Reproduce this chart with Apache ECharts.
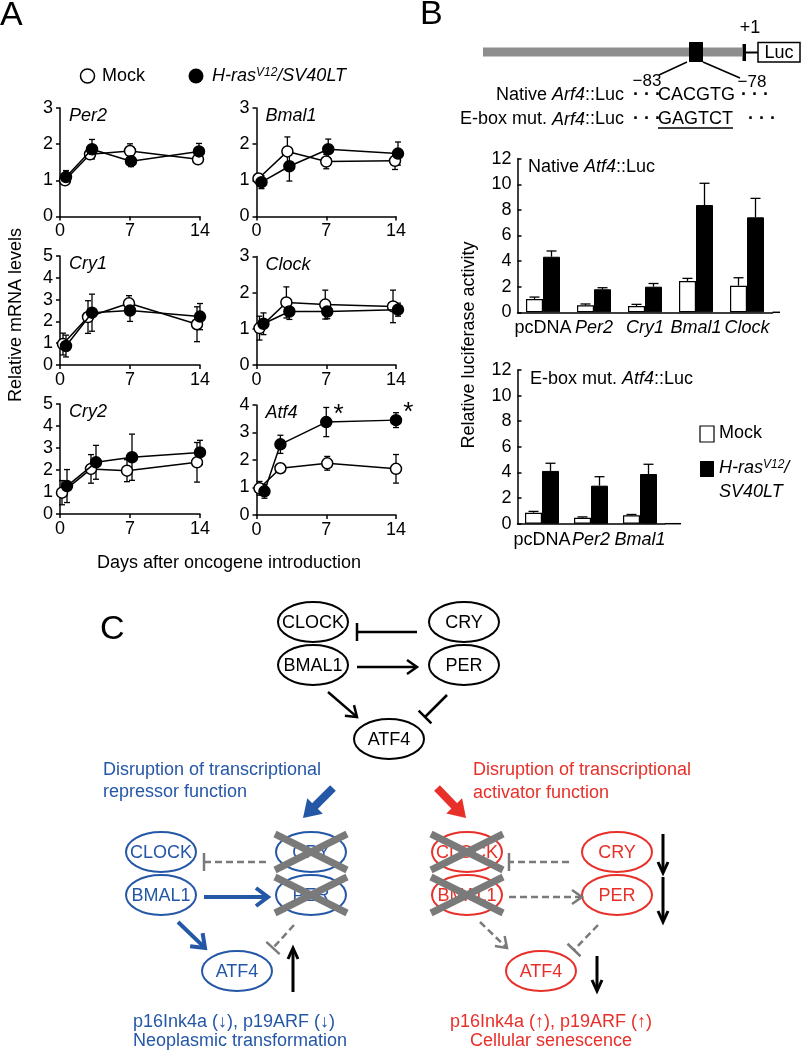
<!DOCTYPE html>
<html><head><meta charset="utf-8">
<script src="https://cdn.jsdelivr.net/npm/echarts@6/dist/echarts.min.js"></script>
<style>html,body{margin:0;padding:0;background:#fff}#c{width:805px;height:1052px}</style>
</head><body><div id="c"></div>
<script>
const FONT = '"Liberation Sans", Arial, Helvetica, sans-serif';

// ---------------- Panel A data (days after oncogene introduction) ----------------
const per2MockX = [0.5, 3.0, 7.0, 13.8];
const per2Mock = [1.0, 1.72, 1.81, 1.58];
const per2MockErr = [0.1, 0.1, 0.2, 0.1];
const per2RasX = [0.6, 3.2, 7.1, 13.9];
const per2Ras = [1.09, 1.86, 1.53, 1.8];
const per2RasErr = [0.18, 0.27, 0.15, 0.22];

const bmal1MockX = [0.2, 3.1, 7.0, 13.9];
const bmal1Mock = [1.05, 1.8, 1.52, 1.54];
const bmal1MockErr = [0.1, 0.4, 0.2, 0.24];
const bmal1RasX = [0.5, 3.3, 7.2, 14.2];
const bmal1Ras = [0.95, 1.39, 1.86, 1.74];
const bmal1RasErr = [0.18, 0.41, 0.28, 0.32];

const cry1MockX = [0.3, 2.8, 6.9, 13.7];
const cry1Mock = [0.96, 2.2, 2.83, 1.87];
const cry1MockErr = [0.5, 0.75, 0.35, 0.8];
const cry1RasX = [0.6, 3.2, 7.0, 14.0];
const cry1Ras = [0.87, 2.4, 2.5, 2.22];
const cry1RasErr = [0.5, 0.85, 0.5, 0.6];

const clockMockX = [0.3, 3.0, 6.9, 13.7];
const clockMock = [1.02, 1.73, 1.67, 1.62];
const clockMockErr = [0.33, 0.43, 0.4, 0.45];
const clockRasX = [0.7, 3.3, 7.1, 14.2];
const clockRas = [1.14, 1.48, 1.48, 1.53];
const clockRasErr = [0.3, 0.22, 0.2, 0.18];

const cry2MockX = [0.2, 3.1, 6.7, 13.7];
const cry2Mock = [0.97, 2.05, 1.97, 2.35];
const cry2MockErr = [0.55, 0.65, 0.5, 0.9];
const cry2RasX = [0.7, 3.6, 7.2, 14.0];
const cry2Ras = [1.27, 2.35, 2.58, 2.8];
const cry2RasErr = [0.75, 0.77, 1.05, 0.55];

const atf4MockX = [0.3, 2.4, 7.1, 14.0];
const atf4Mock = [0.97, 1.7, 1.88, 1.68];
const atf4MockErr = [0.25, 0.07, 0.25, 0.52];
const atf4RasX = [0.8, 2.4, 7.0, 14.0];
const atf4Ras = [0.86, 2.57, 3.38, 3.45];
const atf4RasErr = [0.25, 0.33, 0.53, 0.27];
const atf4Signif = [false, false, true, true];

const genesA = ['Per2', 'Bmal1', 'Cry1', 'Clock', 'Cry2', 'Atf4'];
const yMaxA = [3, 3, 5, 3, 5, 4];
const xTicksA = [0, 7, 14];

// ---------------- Panel B data (relative luciferase activity) ----------------
const nativeCats = ['pcDNA', 'Per2', 'Cry1', 'Bmal1', 'Clock'];
const nativeMock = [1.04, 0.55, 0.49, 2.45, 2.08];
const nativeMockErr = [0.15, 0.1, 0.13, 0.2, 0.62];
const nativeRas = [4.34, 1.8, 2.0, 8.38, 7.42];
const nativeRasErr = [0.45, 0.12, 0.25, 1.7, 1.48];

const eboxCats = ['pcDNA', 'Per2', 'Bmal1'];
const eboxMock = [0.86, 0.47, 0.66];
const eboxMockErr = [0.1, 0.06, 0.06];
const eboxRas = [4.12, 2.97, 3.88];
const eboxRasErr = [0.6, 0.7, 0.76];
const yTicksB = [0, 2, 4, 6, 8, 10, 12];

// ---------------- layout ----------------
const layoutA = [
  {left: 60, top: 108, w: 140, h: 108.5},
  {left: 256.5, top: 108, w: 139.5, h: 108.5},
  {left: 60, top: 256, w: 140, h: 109},
  {left: 256.5, top: 256.5, w: 139.5, h: 108.5},
  {left: 60, top: 404, w: 140, h: 110},
  {left: 256.5, top: 405, w: 139.5, h: 110}
];
const layoutB = [
  {left: 517.5, top: 158.7, w: 255, h: 153.6, axisEnd: 780},
  {left: 517.5, top: 370, w: 147, h: 153.7, axisEnd: 681}
];

const panelsA = [
  {mx: per2MockX, m: per2Mock, me: per2MockErr, rx: per2RasX, r: per2Ras, re: per2RasErr},
  {mx: bmal1MockX, m: bmal1Mock, me: bmal1MockErr, rx: bmal1RasX, r: bmal1Ras, re: bmal1RasErr},
  {mx: cry1MockX, m: cry1Mock, me: cry1MockErr, rx: cry1RasX, r: cry1Ras, re: cry1RasErr},
  {mx: clockMockX, m: clockMock, me: clockMockErr, rx: clockRasX, r: clockRas, re: clockRasErr},
  {mx: cry2MockX, m: cry2Mock, me: cry2MockErr, rx: cry2RasX, r: cry2Ras, re: cry2RasErr},
  {mx: atf4MockX, m: atf4Mock, me: atf4MockErr, rx: atf4RasX, r: atf4Ras, re: atf4RasErr, sig: atf4Signif}
];

const grids = [], xAxes = [], yAxes = [], series = [];
const axLine = () => ({color: '#000', width: 1.5});
const tickLab = (m) => ({color: '#000', fontSize: 18, fontFamily: FONT, margin: m});

function errSeriesA(gi, xs, ys, es) {
  return {
    type: 'custom', xAxisIndex: gi, yAxisIndex: gi, clip: false, silent: true, z: 2, animation: false,
    data: xs.map((x, k) => [x, ys[k], es[k]]),
    encode: {x: 0, y: 1},
    renderItem: (params, api) => {
      const x = api.value(0), y = api.value(1), e = api.value(2);
      const a = api.coord([x, y + e]), b = api.coord([x, y - e]);
      const st = () => ({stroke: '#000', lineWidth: 1.3});
      return {type: 'group', children: [
        {type: 'line', shape: {x1: a[0], y1: a[1], x2: b[0], y2: b[1]}, style: st()},
        {type: 'line', shape: {x1: a[0] - 3, y1: a[1], x2: a[0] + 3, y2: a[1]}, style: st()},
        {type: 'line', shape: {x1: b[0] - 3, y1: b[1], x2: b[0] + 3, y2: b[1]}, style: st()}
      ]};
    }
  };
}
function lineSeriesA(gi, xs, ys, fill, z, sig) {
  return {
    type: 'line', xAxisIndex: gi, yAxisIndex: gi, clip: false, silent: true, z: z, animation: false,
    symbol: 'circle', symbolSize: 11, showSymbol: true,
    lineStyle: {color: '#000', width: 1.5},
    itemStyle: {color: fill, borderColor: '#000', borderWidth: 1.5},
    data: xs.map((x, k) => {
      const d = {value: [x, ys[k]]};
      if (sig && sig[k]) d.label = {show: true, formatter: '*', position: 'right', distance: 1, offset: [0, -7], fontSize: 26, fontFamily: FONT, color: '#000'};
      return d;
    })
  };
}

panelsA.forEach((p, i) => {
  const L = layoutA[i];
  grids.push({left: L.left, top: L.top, width: L.w, height: L.h, containLabel: false, outerBoundsMode: 'none'});
  xAxes.push({type: 'value', gridIndex: i, min: xTicksA[0], max: xTicksA[xTicksA.length - 1], interval: 7,
    axisLine: {show: true, onZero: false, lineStyle: axLine()}, axisTick: {show: true, length: 4, lineStyle: axLine()},
    axisLabel: tickLab(6), splitLine: {show: false}});
  yAxes.push({type: 'value', gridIndex: i, min: 0, max: yMaxA[i], interval: 1,
    axisLine: {show: true, onZero: false, lineStyle: axLine()}, axisTick: {show: true, length: 4, lineStyle: axLine()},
    axisLabel: tickLab(7), splitLine: {show: false}});
  series.push(errSeriesA(i, p.mx, p.m, p.me));
  series.push(errSeriesA(i, p.rx, p.r, p.re));
  series.push(lineSeriesA(i, p.mx, p.m, '#fff', 3));
  series.push(lineSeriesA(i, p.rx, p.r, '#000', 4, p.sig));
});

// ---------------- Panel B bar charts ----------------
const BAR_W = 17;
function errSeriesB(gi, vals, errs, offset) {
  return {
    type: 'custom', xAxisIndex: gi, yAxisIndex: gi, clip: false, silent: true, z: 5, animation: false,
    data: vals.map((v, k) => [k, v, errs[k]]),
    encode: {x: 0, y: 1},
    renderItem: (params, api) => {
      const c = api.value(0), y = api.value(1), e = api.value(2);
      const a = api.coord([c, y]), b = api.coord([c, y + e]);
      const x = a[0] + offset;
      const st = () => ({stroke: '#000', lineWidth: 1.3});
      return {type: 'group', children: [
        {type: 'line', shape: {x1: x, y1: a[1], x2: x, y2: b[1]}, style: st()},
        {type: 'line', shape: {x1: x - 5, y1: b[1], x2: x + 5, y2: b[1]}, style: st()}
      ]};
    }
  };
}
function barSet(gi, L, cats, mock, mockErr, ras, rasErr) {
  grids.push({left: L.left, top: L.top, width: L.w, height: L.h, containLabel: false, outerBoundsMode: 'none'});
  xAxes.push({type: 'category', gridIndex: gi, data: cats,
    axisLine: {show: true, lineStyle: axLine()}, axisTick: {show: false},
    axisLabel: {color: '#000', fontSize: 18, fontFamily: FONT, margin: 7, interval: 0,
      formatter: v => v === 'pcDNA' ? v : '{i|' + v + '}',
      rich: {i: {fontStyle: 'italic', fontSize: 18, fontFamily: FONT, color: '#000'}}},
    splitLine: {show: false}});
  yAxes.push({type: 'value', gridIndex: gi, min: yTicksB[0], max: yTicksB[yTicksB.length - 1], interval: 2,
    axisLine: {show: true, lineStyle: axLine()}, axisTick: {show: true, inside: true, length: 4, lineStyle: axLine()},
    axisLabel: tickLab(6), splitLine: {show: false}});
  series.push({type: 'bar', xAxisIndex: gi, yAxisIndex: gi, data: mock, barWidth: BAR_W, barGap: '0%', silent: true, animation: false,
    itemStyle: {color: '#fff', borderColor: '#000', borderWidth: 1.2}, z: 3});
  series.push({type: 'bar', xAxisIndex: gi, yAxisIndex: gi, data: ras, barWidth: BAR_W, barGap: '0%', silent: true, animation: false,
    itemStyle: {color: '#000', borderColor: '#000', borderWidth: 1}, z: 3});
  series.push(errSeriesB(gi, mock, mockErr, -BAR_W / 2));
  series.push(errSeriesB(gi, ras, rasErr, BAR_W / 2));
}
barSet(6, layoutB[0], nativeCats, nativeMock, nativeMockErr, nativeRas, nativeRasErr);
barSet(7, layoutB[1], eboxCats, eboxMock, eboxMockErr, eboxRas, eboxRasErr);

// ---------------- graphics (labels, legends, diagrams) ----------------
const G = [];
function txt(x, y, text, opt) {
  G.push({type: 'text', x: x, y: y, silent: true, z: 20,
    style: Object.assign({text: text, fill: '#000', fontSize: 18, fontFamily: FONT, align: 'left', verticalAlign: 'middle'}, opt || {})});
}
function ln(x1, y1, x2, y2, stroke, w, dash, z) {
  G.push({type: 'line', silent: true, z: z || 12, shape: {x1, y1, x2, y2},
    style: {stroke: stroke, lineWidth: w, lineDash: dash || null, lineCap: 'butt'}});
}
function unit(x1, y1, x2, y2) {
  const dx = x2 - x1, dy = y2 - y1, d = Math.hypot(dx, dy);
  return [dx / d, dy / d];
}
function arrow(x1, y1, x2, y2, stroke, w, len, half, dash) {
  const [ux, uy] = unit(x1, y1, x2, y2), px = -uy, py = ux;
  ln(x1, y1, x2 - ux * w * 0.4, y2 - uy * w * 0.4, stroke, w, dash);
  G.push({type: 'polyline', silent: true, z: 12,
    shape: {points: [[x2 - ux * len + px * half, y2 - uy * len + py * half], [x2, y2], [x2 - ux * len - px * half, y2 - uy * len - py * half]]},
    style: {stroke: stroke, lineWidth: w, fill: null, lineJoin: 'miter'}});
}
function tbar(x1, y1, x2, y2, stroke, w, half, dash) {
  const [ux, uy] = unit(x1, y1, x2, y2), px = -uy, py = ux;
  ln(x1, y1, x2, y2, stroke, w, dash);
  ln(x2 + px * half, y2 + py * half, x2 - px * half, y2 - py * half, stroke, w);
}
function bigArrow(x1, y1, x2, y2, color, w, len, half) {
  const [ux, uy] = unit(x1, y1, x2, y2), px = -uy, py = ux;
  ln(x1, y1, x2 - ux * len * 0.8, y2 - uy * len * 0.8, color, w);
  G.push({type: 'polygon', silent: true, z: 12,
    shape: {points: [[x2, y2], [x2 - ux * len + px * half, y2 - uy * len + py * half], [x2 - ux * len - px * half, y2 - uy * len - py * half]]},
    style: {fill: color}});
}
function node(cx, cy, label, color) {
  G.push({type: 'ellipse', silent: true, z: 10, shape: {cx: cx, cy: cy, rx: 35, ry: 20}, style: {fill: '#fff', stroke: color, lineWidth: 2}});
  txt(cx, cy + 1, label, {fill: color, align: 'center'});
}
function cross(cx, cy) {
  ln(cx - 36, cy - 18, cx + 36, cy + 18, '#7a7a7a', 7, null, 21);
  ln(cx - 36, cy + 18, cx + 36, cy - 18, '#7a7a7a', 7, null, 21);
}

// Panel letters
txt(0, 16, 'A', {fontSize: 34});
txt(420, 15, 'B', {fontSize: 34});
txt(100, 630, 'C', {fontSize: 34});

// Panel A legend and labels
G.push({type: 'circle', silent: true, z: 20, shape: {cx: 87.5, cy: 76, r: 7}, style: {fill: '#fff', stroke: '#000', lineWidth: 1.5}});
txt(102, 76, 'Mock');
G.push({type: 'circle', silent: true, z: 20, shape: {cx: 196, cy: 76, r: 7.5}, style: {fill: '#000'}});
const supRich = {
  i: {fontStyle: 'italic', fontSize: 18, fontFamily: FONT, fill: '#000'},
  s: {fontStyle: 'italic', fontSize: 12, fontFamily: FONT, fill: '#000', verticalAlign: 'top'}
};
txt(212, 76, '{i|H-ras}{s|V12}{i|/SV40LT}', {rich: supRich});
genesA.forEach((g, i) => txt(layoutA[i].left + 9, layoutA[i].top + 8, g, {fontStyle: 'italic'}));
txt(16, 315, 'Relative mRNA levels', {align: 'center'});
G[G.length - 1].rotation = Math.PI / 2;
txt(229, 563, 'Days after oncogene introduction', {align: 'center'});

// Panel B construct diagram
G.push({type: 'rect', silent: true, z: 10, shape: {x: 483, y: 47.5, width: 259, height: 9}, style: {fill: '#8e8e8e'}});
G.push({type: 'rect', silent: true, z: 11, shape: {x: 689, y: 42, width: 14, height: 20}, style: {fill: '#000'}});
G.push({type: 'rect', silent: true, z: 11, shape: {x: 742.5, y: 44, width: 3.5, height: 17}, style: {fill: '#000'}});
ln(746, 52.5, 758, 52.5, '#000', 2);
G.push({type: 'rect', silent: true, z: 11, shape: {x: 758, y: 42.5, width: 42, height: 19.5}, style: {fill: '#fff', stroke: '#000', lineWidth: 1.5}});
txt(779, 53, 'Luc', {align: 'center'});
txt(750, 28, '+1', {align: 'center'});
ln(687, 62, 659, 75, '#000', 1.5);
ln(703, 62, 740, 78, '#000', 1.5);
txt(647, 81, '\u221283', {align: 'center', fontSize: 17});
txt(752, 82, '\u221278', {align: 'center', fontSize: 17});
const iRich = {i: {fontStyle: 'italic', fontSize: 18, fontFamily: FONT, fill: '#000'}};
txt(624, 95, 'Native {i|Arf4}::Luc', {align: 'right', rich: iRich});
txt(633, 95, '\u00b7 \u00b7 \u00b7', {fontWeight: 'bold'});
txt(658, 95, 'CACGTG');
txt(741, 95, '\u00b7 \u00b7 \u00b7', {fontWeight: 'bold'});
txt(624, 119.5, 'E-box mut. {i|Arf4}::Luc', {align: 'right', rich: iRich});
txt(633, 119.5, '\u00b7 \u00b7 \u00b7', {fontWeight: 'bold'});
txt(658, 119.5, 'GAGTCT');
ln(658, 128, 733, 128, '#000', 1.3);
txt(748, 119.5, '\u00b7 \u00b7 \u00b7', {fontWeight: 'bold'});

// Panel B chart labels
txt(528, 167, 'Native {i|Atf4}::Luc', {rich: iRich});
txt(530, 379, 'E-box mut. {i|Atf4}::Luc', {rich: iRich});
layoutB.forEach(L => ln(L.left + L.w, L.top + L.h, L.axisEnd, L.top + L.h, '#000', 1.5));
txt(469, 345, 'Relative luciferase activity', {align: 'center'});
G[G.length - 1].rotation = Math.PI / 2;
G.push({type: 'rect', silent: true, z: 20, shape: {x: 700, y: 426, width: 14, height: 16}, style: {fill: '#fff', stroke: '#000', lineWidth: 1.2}});
txt(719, 433, 'Mock');
G.push({type: 'rect', silent: true, z: 20, shape: {x: 700, y: 461, width: 14, height: 16}, style: {fill: '#000'}});
txt(719, 468, '{i|H-ras}{s|V12}{i|/}', {rich: supRich});
txt(719, 492, 'SV40LT', {fontStyle: 'italic'});

// Panel C: top network
const K = '#000';
node(313, 622, 'CLOCK', K);
node(313, 665, 'BMAL1', K);
node(464, 622, 'CRY', K);
node(464, 665, 'PER', K);
node(389, 739, 'ATF4', K);
tbar(417, 632, 357, 632, K, 2.5, 9);
arrow(357, 667, 417, 667, K, 2.5, 10, 7);
arrow(328, 692, 357, 717, K, 2.5, 10, 7);
tbar(447, 695, 425, 717, K, 2.5, 9);

// Panel C: lower-left (blue)
const BL = '#2557a7';
txt(103, 770, 'Disruption of transcriptional', {fill: BL});
txt(103, 792, 'repressor function', {fill: BL});
bigArrow(333, 788, 303, 818, BL, 8, 17, 11);
node(161, 852, 'CLOCK', BL);
node(161, 895, 'BMAL1', BL);
node(311, 852, 'CRY', BL);
node(311, 895, 'PER', BL);
node(237, 971, 'ATF4', BL);
cross(311, 852);
cross(311, 895);
tbar(266, 862, 204, 862, '#7a7a7a', 2.5, 9, [7, 4]);
arrow(204, 897, 268, 897, BL, 4, 12, 9);
arrow(178, 922, 205, 948, BL, 4, 12, 9);
tbar(294, 925, 273, 948, '#7a7a7a', 2.5, 9, [7, 4]);
arrow(293, 992, 293, 948, K, 3, 11, 5);
txt(133, 1022, 'p16Ink4a (\u2193), p19ARF (\u2193)', {fill: BL});
txt(133, 1041, 'Neoplasmic transformation', {fill: BL});

// Panel C: lower-right (red)
const RD = '#e8302a';
txt(473, 770, 'Disruption of transcriptional', {fill: RD});
txt(473, 793, 'activator function', {fill: RD});
bigArrow(437, 788, 466, 818, RD, 8, 17, 11);
node(467, 852, 'CLOCK', RD);
node(467, 895, 'BMAL1', RD);
node(617, 852, 'CRY', RD);
node(617, 895, 'PER', RD);
node(541, 971, 'ATF4', RD);
cross(467, 852);
cross(467, 895);
tbar(569, 862, 509, 862, '#7a7a7a', 2.5, 9, [7, 4]);
arrow(509, 897, 582, 897, '#7a7a7a', 2.5, 10, 7, [7, 4]);
arrow(480, 922, 507, 948, '#7a7a7a', 2.5, 10, 7, [7, 4]);
tbar(598, 925, 574, 950, '#7a7a7a', 2.5, 9, [7, 4]);
arrow(663, 834, 663, 873, K, 3, 11, 5);
arrow(663, 877, 663, 922, K, 3, 11, 5);
arrow(597, 956, 597, 991, K, 3, 11, 5);
txt(551, 1022, 'p16Ink4a (\u2191), p19ARF (\u2191)', {fill: RD, align: 'center'});
txt(551, 1041, 'Cellular senescence', {fill: RD, align: 'center'});

const chart = echarts.init(document.getElementById('c'), null, {renderer: 'canvas'});
chart.setOption({
  animation: false,
  backgroundColor: '#fff',
  textStyle: {fontFamily: FONT},
  grid: grids,
  xAxis: xAxes,
  yAxis: yAxes,
  series: series,
  graphic: {elements: G}
});
</script>
</body></html>
